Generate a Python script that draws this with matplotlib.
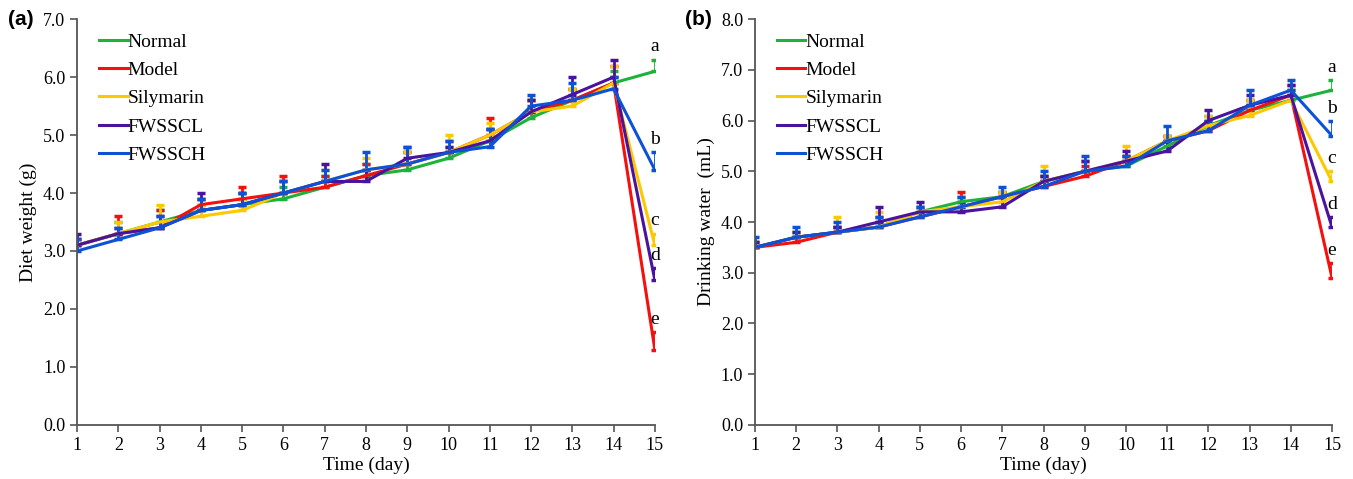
import matplotlib.pyplot as plt
from matplotlib.lines import Line2D
import numpy as np

plt.rcParams['font.family'] = ['Liberation Serif', 'DejaVu Serif']

days = np.arange(1, 16)
groups = ['Normal', 'Model', 'Silymarin', 'FWSSCL', 'FWSSCH']
colors = ['#1db33a', '#f50f0f', '#fcc800', '#4a139e', '#0d52d6']
letters = ['a', 'e', 'c', 'd', 'b']

# (a) diet weight (g)
diet_normal = [3.1, 3.3, 3.5, 3.7, 3.8, 3.9, 4.1, 4.3, 4.4, 4.6, 4.9, 5.3, 5.6, 5.9, 6.1]
diet_model = [3.1, 3.3, 3.4, 3.8, 3.9, 4.0, 4.1, 4.3, 4.5, 4.7, 5.0, 5.4, 5.6, 5.9, 1.3]
diet_sily = [3.1, 3.3, 3.5, 3.6, 3.7, 4.0, 4.2, 4.4, 4.5, 4.7, 5.0, 5.4, 5.5, 5.9, 3.1]
diet_fwsscl = [3.1, 3.3, 3.4, 3.7, 3.8, 4.0, 4.2, 4.2, 4.6, 4.7, 4.9, 5.4, 5.7, 6.0, 2.5]
diet_fwssch = [3.0, 3.2, 3.4, 3.7, 3.8, 4.0, 4.2, 4.4, 4.5, 4.7, 4.8, 5.5, 5.6, 5.8, 4.4]

diet_err_normal = [0.1, 0.2, 0.2, 0.2, 0.2, 0.2, 0.2, 0.2, 0.3, 0.2, 0.2, 0.3, 0.2, 0.2, 0.2]
diet_err_model = [0.1, 0.3, 0.3, 0.1, 0.2, 0.3, 0.2, 0.2, 0.2, 0.2, 0.3, 0.2, 0.2, 0.3, 0.3]
diet_err_sily = [0.1, 0.2, 0.3, 0.2, 0.2, 0.2, 0.2, 0.2, 0.2, 0.3, 0.2, 0.2, 0.3, 0.3, 0.2]
diet_err_fwsscl = [0.2, 0.1, 0.2, 0.3, 0.2, 0.2, 0.3, 0.2, 0.2, 0.1, 0.2, 0.2, 0.3, 0.3, 0.2]
diet_err_fwssch = [0.2, 0.2, 0.2, 0.2, 0.2, 0.2, 0.2, 0.3, 0.3, 0.2, 0.3, 0.2, 0.3, 0.2, 0.3]

# (b) drinking water (mL)
water_normal = [3.5, 3.7, 3.8, 3.9, 4.2, 4.4, 4.5, 4.8, 5.0, 5.1, 5.5, 5.9, 6.2, 6.4, 6.6]
water_model = [3.5, 3.6, 3.8, 3.9, 4.1, 4.3, 4.5, 4.7, 4.9, 5.2, 5.6, 5.8, 6.2, 6.5, 2.9]
water_sily = [3.5, 3.7, 3.8, 3.9, 4.2, 4.3, 4.4, 4.8, 5.0, 5.2, 5.6, 5.9, 6.1, 6.4, 4.8]
water_fwsscl = [3.5, 3.7, 3.8, 4.0, 4.2, 4.2, 4.3, 4.8, 5.0, 5.2, 5.4, 6.0, 6.3, 6.5, 3.9]
water_fwssch = [3.5, 3.7, 3.8, 3.9, 4.1, 4.3, 4.5, 4.7, 5.0, 5.1, 5.6, 5.8, 6.3, 6.6, 5.7]

water_err_normal = [0.1, 0.1, 0.1, 0.1, 0.1, 0.1, 0.1, 0.1, 0.2, 0.2, 0.2, 0.2, 0.2, 0.2, 0.2]
water_err_model = [0.1, 0.1, 0.1, 0.2, 0.2, 0.3, 0.1, 0.2, 0.2, 0.1, 0.1, 0.1, 0.2, 0.2, 0.3]
water_err_sily = [0.1, 0.1, 0.3, 0.3, 0.1, 0.2, 0.2, 0.3, 0.2, 0.3, 0.1, 0.2, 0.3, 0.2, 0.2]
water_err_fwsscl = [0.1, 0.1, 0.1, 0.3, 0.2, 0.2, 0.2, 0.1, 0.2, 0.2, 0.2, 0.2, 0.2, 0.2, 0.2]
water_err_fwssch = [0.2, 0.2, 0.2, 0.2, 0.2, 0.2, 0.2, 0.3, 0.3, 0.2, 0.3, 0.2, 0.3, 0.2, 0.3]

diet = [diet_normal, diet_model, diet_sily, diet_fwsscl, diet_fwssch]
diet_err = [diet_err_normal, diet_err_model, diet_err_sily, diet_err_fwsscl, diet_err_fwssch]
water = [water_normal, water_model, water_sily, water_fwsscl, water_fwssch]
water_err = [water_err_normal, water_err_model, water_err_sily, water_err_fwsscl, water_err_fwssch]


def draw_panel(ax, means, errs, ymax, ylabel, tag):
    for name, c, m, e in zip(groups, colors, means, errs):
        m = np.array(m)
        e = np.array(e)
        ax.errorbar(days, m, yerr=[np.zeros_like(e), e], color=c, lw=2.2,
                    elinewidth=2, capsize=3, capthick=2.5)
    # significance letters at day 15
    for c, m, e, let in zip(colors, means, errs, letters):
        ax.text(15, m[-1] + e[-1] + 0.08, let, ha='center', va='bottom', fontsize=14)
    ax.set_xlim(1, 15)
    ax.set_ylim(0, ymax)
    ax.set_xticks(days)
    yt = np.arange(0, ymax + 0.01, 1.0)
    ax.set_yticks(yt)
    ax.set_yticklabels([f'{v:.1f}' for v in yt])
    ax.tick_params(labelsize=13, length=5, color='#555555', width=1.2)
    for s in ['top', 'right']:
        ax.spines[s].set_visible(False)
    for s in ['left', 'bottom']:
        ax.spines[s].set_color('#555555')
        ax.spines[s].set_linewidth(1.3)
    ax.set_xlabel('Time (day)', fontsize=14, labelpad=2)
    ax.set_ylabel(ylabel, fontsize=14, labelpad=4)
    handles = [Line2D([], [], color=c, lw=2.2) for c in colors]
    ax.legend(handles, groups, loc='upper left', bbox_to_anchor=(0.025, 0.985),
              frameon=False, fontsize=14, handlelength=1.45, handletextpad=0.0,
              labelspacing=0.55, borderaxespad=0.0)
    ax.text(-0.075, 1.0, tag, transform=ax.transAxes, fontsize=15, fontweight='bold',
            family=['Liberation Sans', 'DejaVu Sans'], ha='right', va='center')


fig = plt.figure(figsize=(13.53, 4.79), dpi=100)
ax1 = fig.add_axes([0.057, 0.113, 0.427, 0.847])
ax2 = fig.add_axes([0.558, 0.113, 0.4265, 0.847])
draw_panel(ax1, diet, diet_err, 7.0, 'Diet weight (g)', '(a)')
draw_panel(ax2, water, water_err, 8.0, 'Drinking water  (mL)', '(b)')

fig.savefig('out.png', dpi=100)
